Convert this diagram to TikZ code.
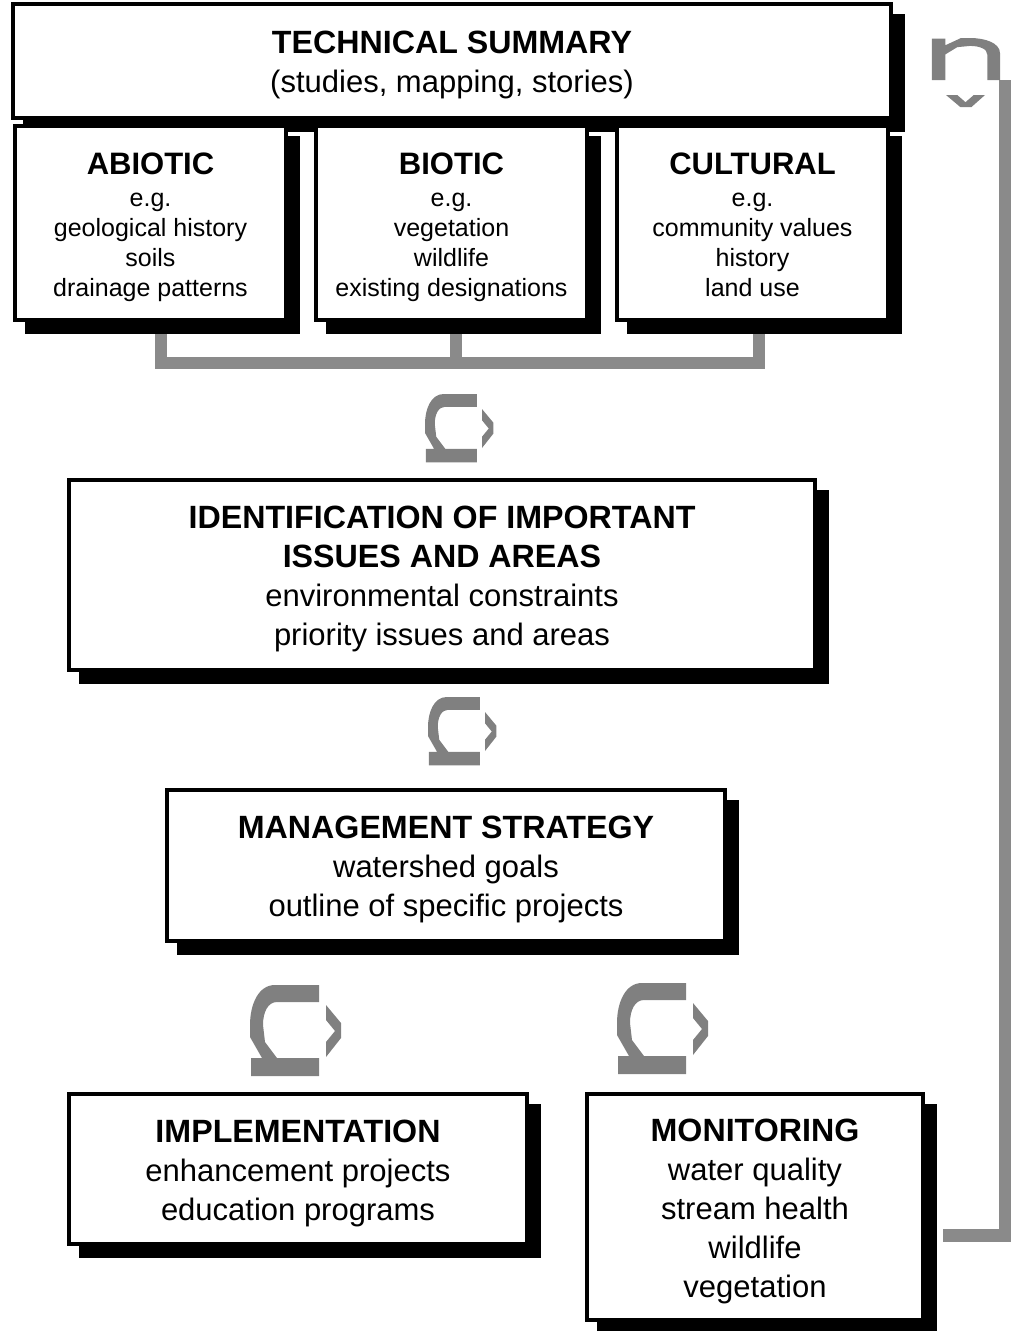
\documentclass[tikz,border=0pt]{standalone}
\usepackage{fontspec}
\setmainfont{Liberation Sans}
\usetikzlibrary{calc}
\pgfdeclarelayer{bg}
\pgfdeclarelayer{shadowlayer}
\pgfsetlayers{bg,shadowlayer,main}
\definecolor{glyphgray}{RGB}{128,128,128}
\definecolor{linegray}{RGB}{138,138,138}
\newcommand{\bigfont}{\fontsize{31}{39}\selectfont}
\newcommand{\smallfont}{\fontsize{25}{30}\selectfont}
\newcommand{\hd}[1]{\rule{0pt}{31pt}{\bfseries\fontsize{32.2}{39}\selectfont #1}}
\newcommand{\hds}[1]{\rule{0pt}{29.5pt}{\bfseries\fontsize{31}{35}\selectfont #1}}
\newcommand{\boxshadow}[1]{\begin{pgfonlayer}{shadowlayer}\fill[black] ([shift={(12,12)}]#1.north west) rectangle ([shift={(12,12)}]#1.south east);\end{pgfonlayer}}
\tikzset{
  box/.style={draw=black, line width=4pt, fill=white, inner sep=0pt, align=center},
  bigbox/.style={box, font=\bigfont},
  smallbox/.style={box, font=\smallfont},
  bracket/.style={draw=linegray, line width=12pt, line join=miter},
  feedback/.style={draw=linegray, line width=13pt, line join=miter},
  uturnC/.pic={\fill[glyphgray] (69,0) -- (25,0) .. controls (8,0) and (0,20) .. (0,40) -- (0,52) -- (12,73) -- (1,73) -- (1,91) -- (69,91) -- (69,73) -- (27,73) -- (15,57) -- (13,40) .. controls (13,27) and (18,17) .. (27,17) -- (69,17) -- cycle;},
  uturnchev/.pic={\fill[glyphgray] (76,20) -- (91,38) -- (91,53) -- (76,72) -- (76,57) -- (85,46) -- (76,35) -- cycle;},
  uturn/.pic={\fill[glyphgray] (69,0) -- (25,0) .. controls (8,0) and (0,20) .. (0,40) -- (0,52) -- (12,73) -- (1,73) -- (1,91) -- (69,91) -- (69,73) -- (27,73) -- (15,57) -- (13,40) .. controls (13,27) and (18,17) .. (27,17) -- (69,17) -- cycle;
    \fill[glyphgray] (76,20) -- (91,38) -- (91,53) -- (76,72) -- (76,57) -- (85,46) -- (76,35) -- cycle;}
}
\begin{document}
\begin{tikzpicture}[x=1pt,y=-1pt]
\useasboundingbox (0,0) rectangle (1010,1331);

% boxes
\node[bigbox, minimum width=878, minimum height=114] (summary) at (452,61)
  {\hd{TECHNICAL SUMMARY}\\(studies, mapping, stories)};
\node[smallbox, minimum width=271, minimum height=194] (abiotic) at (150.5,223)
  {\hds{ABIOTIC}\\[2pt]e.g.\\geological history\\soils\\drainage patterns};
\node[smallbox, minimum width=271, minimum height=194] (biotic) at (451.5,223)
  {\hds{BIOTIC}\\[2pt]e.g.\\vegetation\\wildlife\\existing designations};
\node[smallbox, minimum width=271, minimum height=194] (cultural) at (752.5,223)
  {\hds{CULTURAL}\\[2pt]e.g.\\community values\\history\\land use\vphantom{g}};
\node[bigbox, minimum width=746, minimum height=190] (ident) at (442,575)
  {\hd{IDENTIFICATION OF IMPORTANT}\\{\bfseries\fontsize{32.2}{39}\selectfont ISSUES AND AREAS}\\environmental constraints\\priority issues and areas};
\node[bigbox, minimum width=558, minimum height=151] (manage) at (446,865.5)
  {\hd{MANAGEMENT STRATEGY}\\watershed goals\\outline of specific projects};
\node[bigbox, minimum width=458, minimum height=150] (implement) at (298,1169)
  {\hd{IMPLEMENTATION}\\enhancement projects\\education programs};
\node[bigbox, minimum width=336, minimum height=226] (monitor) at (755,1207)
  {\hd{MONITORING}\\water quality\\stream health\\wildlife\\vegetation};

% shadows
\boxshadow{summary}
\boxshadow{abiotic}
\boxshadow{biotic}
\boxshadow{cultural}
\boxshadow{ident}
\boxshadow{manage}
\boxshadow{implement}
\boxshadow{monitor}

% bracket joining the three theme boxes
\coordinate (bar) at (0,363);
\begin{pgfonlayer}{bg}
\draw[bracket] ([xshift=10]abiotic.south) -- ([xshift=10]abiotic.south |- bar) -| ([xshift=6]cultural.south);
\draw[bracket] ([xshift=4]biotic.south) -- ([xshift=4]biotic.south |- bar);
\end{pgfonlayer}

% feedback line from monitoring back to the top
\coordinate (fbA) at (943,1235);
\coordinate (fbB) at (1005,80);
\draw[feedback] (fbA) -| (fbB);

% u-turn arrow glyphs
\pic[scale=0.75] at (425,394) {uturn};
\pic[scale=0.75] at (428,697) {uturn};
\pic at (250,985) {uturn};
\pic at (617,983) {uturn};
\pic[rotate=-90, xscale=0.61, yscale=0.75] at (1000,38) {uturnC};
\pic[rotate=-90, xscale=0.8, yscale=0.75] at (1000,34.2) {uturnchev};
\end{tikzpicture}
\end{document}
